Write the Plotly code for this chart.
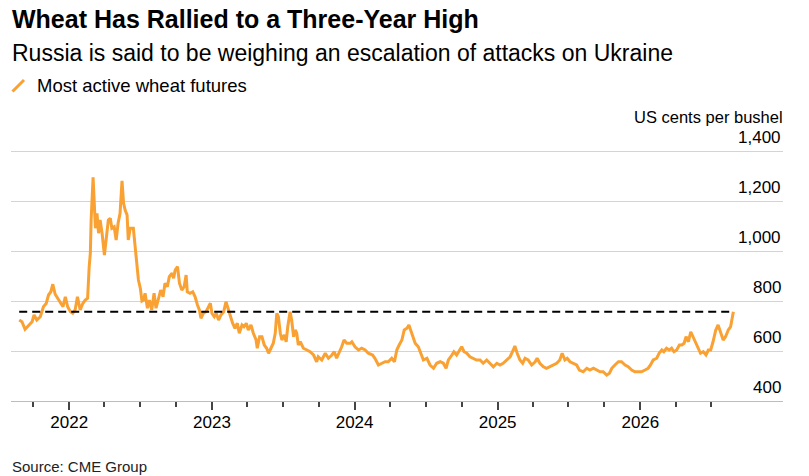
import pandas as pd
import plotly.graph_objects as go

W, H = 809, 476
ORANGE = "#f9a132"
FONT = "Liberation Sans"

# Most active wheat futures, US cents per bushel
dates_2021 = ["2021-08-26", "2021-09-02", "2021-09-10", "2021-09-19", "2021-09-28", "2021-10-03",
              "2021-10-10", "2021-10-19", "2021-10-27", "2021-11-03", "2021-11-09", "2021-11-15",
              "2021-11-20", "2021-11-26", "2021-12-02", "2021-12-09", "2021-12-16", "2021-12-22",
              "2021-12-28"]
cents_2021 = [724, 717, 687, 704, 717, 744, 724, 737, 777, 790, 824, 837,
              867, 827, 811, 797, 777, 817, 777]

dates_2022 = ["2022-01-04", "2022-01-10", "2022-01-16", "2022-01-22", "2022-01-29", "2022-02-05",
              "2022-02-11", "2022-02-17", "2022-02-21", "2022-02-24", "2022-02-26", "2022-03-03",
              "2022-03-06", "2022-03-09", "2022-03-13", "2022-03-17", "2022-03-21", "2022-03-26",
              "2022-04-01", "2022-04-06", "2022-04-11", "2022-04-16", "2022-04-20", "2022-04-26",
              "2022-05-01", "2022-05-06", "2022-05-11", "2022-05-16", "2022-05-20", "2022-05-24",
              "2022-05-29", "2022-06-01", "2022-06-06", "2022-06-14", "2022-06-19", "2022-06-23",
              "2022-06-27", "2022-07-02", "2022-07-06", "2022-07-10", "2022-07-14", "2022-07-20",
              "2022-07-25", "2022-07-31", "2022-08-06", "2022-08-11", "2022-08-17", "2022-08-23",
              "2022-08-29", "2022-09-03", "2022-09-09", "2022-09-14", "2022-09-21", "2022-09-25",
              "2022-09-29", "2022-10-05", "2022-10-10", "2022-10-16", "2022-10-22", "2022-10-27",
              "2022-10-30", "2022-11-06", "2022-11-13", "2022-11-19", "2022-11-25", "2022-11-30",
              "2022-12-04", "2022-12-10", "2022-12-17", "2022-12-23", "2022-12-28"]
cents_2022 = [757, 751, 764, 817, 764, 791, 804, 811, 937, 992, 1124, 1295,
              1191, 1091, 1151, 1071, 1124, 1071, 984, 1044, 1124, 1131, 1091, 1097,
              1044, 1111, 1151, 1281, 1191, 1164, 1144, 1044, 1091, 1091, 1004, 924,
              884, 850, 800, 804, 831, 771, 804, 764, 831, 771, 804, 844,
              817, 871, 857, 897, 911, 891, 924, 937, 871, 844, 857, 904,
              837, 831, 837, 817, 784, 764, 731, 751, 757, 777, 791]

dates_2023 = ["2023-01-01", "2023-01-07", "2023-01-12", "2023-01-18", "2023-01-24", "2023-01-31",
              "2023-02-06", "2023-02-10", "2023-02-17", "2023-02-23", "2023-03-01", "2023-03-07",
              "2023-03-12", "2023-03-19", "2023-03-24", "2023-03-30", "2023-04-04", "2023-04-11",
              "2023-04-17", "2023-04-24", "2023-04-27", "2023-05-03", "2023-05-09", "2023-05-15",
              "2023-05-21", "2023-05-26", "2023-06-01", "2023-06-07", "2023-06-12", "2023-06-16",
              "2023-06-20", "2023-06-25", "2023-06-29", "2023-07-05", "2023-07-10", "2023-07-14",
              "2023-07-20", "2023-07-24", "2023-07-29", "2023-08-02", "2023-08-06", "2023-08-10",
              "2023-08-15", "2023-08-23", "2023-09-01", "2023-09-09", "2023-09-18", "2023-09-26",
              "2023-09-30", "2023-10-09", "2023-10-18", "2023-10-26", "2023-11-04", "2023-11-10",
              "2023-11-16", "2023-11-22", "2023-11-29", "2023-12-05", "2023-12-12", "2023-12-21",
              "2023-12-25"]
cents_2023 = [751, 737, 751, 724, 744, 757, 797, 777, 744, 711, 691, 711,
              671, 704, 697, 711, 684, 704, 671, 644, 611, 657, 657, 624,
              611, 591, 611, 631, 671, 751, 737, 671, 644, 664, 637, 697,
              757, 724, 657, 684, 671, 624, 637, 611, 604, 597, 584, 557,
              577, 564, 591, 571, 584, 597, 571, 591, 617, 644, 631, 631,
              637]

dates_2024 = ["2024-01-02", "2024-01-11", "2024-01-19", "2024-01-28", "2024-02-05", "2024-02-16",
              "2024-02-22", "2024-03-02", "2024-03-11", "2024-03-19", "2024-03-27", "2024-04-05",
              "2024-04-12", "2024-04-18", "2024-04-24", "2024-05-01", "2024-05-07", "2024-05-14",
              "2024-05-19", "2024-05-26", "2024-06-04", "2024-06-12", "2024-06-19", "2024-06-25",
              "2024-07-04", "2024-07-12", "2024-07-21", "2024-07-29", "2024-08-07", "2024-08-15",
              "2024-08-22", "2024-08-28", "2024-09-06", "2024-09-11", "2024-09-18", "2024-09-25",
              "2024-10-01", "2024-10-07", "2024-10-14", "2024-10-22", "2024-10-31", "2024-11-08",
              "2024-11-17", "2024-11-25", "2024-12-04", "2024-12-12", "2024-12-21", "2024-12-30"]
cents_2024 = [617, 604, 611, 604, 591, 584, 571, 544, 551, 557, 557, 571,
              557, 604, 624, 644, 684, 691, 704, 671, 631, 617, 584, 564,
              571, 544, 531, 551, 557, 551, 531, 564, 584, 597, 584, 604,
              617, 597, 591, 577, 571, 564, 564, 551, 564, 551, 537, 551]

dates_2025 = ["2025-01-07", "2025-01-15", "2025-01-24", "2025-02-02", "2025-02-10", "2025-02-14",
              "2025-02-20", "2025-02-27", "2025-03-06", "2025-03-12", "2025-03-20", "2025-03-29",
              "2025-04-07", "2025-04-12", "2025-04-19", "2025-04-28", "2025-05-06", "2025-05-15",
              "2025-05-23", "2025-06-01", "2025-06-09", "2025-06-15", "2025-06-22", "2025-06-28",
              "2025-07-05", "2025-07-14", "2025-07-22", "2025-07-29", "2025-08-08", "2025-08-17",
              "2025-08-25", "2025-09-03", "2025-09-11", "2025-09-20", "2025-09-28", "2025-10-07",
              "2025-10-14", "2025-10-20", "2025-10-28", "2025-11-06", "2025-11-14", "2025-11-23",
              "2025-12-01", "2025-12-10", "2025-12-18", "2025-12-27"]
cents_2025 = [544, 551, 564, 577, 604, 620, 591, 564, 551, 571, 564, 544,
              557, 571, 551, 537, 531, 537, 544, 551, 564, 591, 564, 571,
              557, 551, 544, 524, 517, 531, 524, 531, 524, 517, 517, 504,
              511, 531, 544, 557, 557, 544, 537, 524, 517, 517]

dates_2026 = ["2026-01-04", "2026-01-13", "2026-01-21", "2026-01-27", "2026-02-03", "2026-02-12",
              "2026-02-18", "2026-02-25", "2026-03-02", "2026-03-09", "2026-03-16", "2026-03-22",
              "2026-03-28", "2026-04-04", "2026-04-11", "2026-04-17", "2026-04-23", "2026-04-28",
              "2026-05-04", "2026-05-10", "2026-05-16", "2026-05-23", "2026-05-29", "2026-06-04",
              "2026-06-11", "2026-06-18", "2026-06-24", "2026-06-30", "2026-07-06", "2026-07-13",
              "2026-07-19", "2026-07-25", "2026-08-01", "2026-08-07", "2026-08-14", "2026-08-20",
              "2026-08-24", "2026-08-27"]
cents_2026 = [517, 524, 531, 544, 564, 571, 591, 604, 597, 611, 604, 611,
              597, 604, 624, 624, 631, 657, 637, 677, 657, 631, 611, 591,
              597, 584, 604, 604, 637, 684, 704, 677, 644, 657, 684, 697,
              724, 757]

dates = dates_2021 + dates_2022 + dates_2023 + dates_2024 + dates_2025 + dates_2026
cents = cents_2021 + cents_2022 + cents_2023 + cents_2024 + cents_2025 + cents_2026

level = 757  # dashed reference: latest close

y_ticks = [400, 600, 800, 1000, 1200, 1400]
year_ticks = ["2022-01-01", "2023-01-01", "2024-01-01", "2025-01-01", "2026-01-01"]
year_labels = ["2022", "2023", "2024", "2025", "2026"]
quarter_ticks = pd.date_range("2021-10-01", "2026-07-01", freq="QS").strftime("%Y-%m-%d").tolist()

# plot area in pixels; y range runs past 1,400 so plotly keeps that gridline
# (0.25 px per cent, so 1,420 sits 5 px above the 1,400 line at y=151)
L, R, T, B = 11, 783, 146, 401
Y_RANGE = [400, 1420]


def px_x(x):
    return (x - L) / (R - L)


def px_y(y):
    return (B - y) / (B - T)


fig = go.Figure()

fig.add_trace(go.Scatter(x=dates, y=cents, mode="lines",
                         line=dict(color=ORANGE, width=3),
                         name="Most active wheat futures", hoverinfo="x+y"))

fig.add_trace(go.Scatter(x=[dates[0], dates[-1]], y=[level, level], mode="lines",
                         line=dict(color="#000000", width=2, dash="8px,5px"),
                         hoverinfo="skip"))

fig.update_layout(
    width=W, height=H,
    margin=dict(l=L, r=W - R, t=T, b=H - B, pad=0),
    paper_bgcolor="white", plot_bgcolor="white",
    showlegend=False,
    font=dict(family=FONT, color="#000000"),
    xaxis=dict(type="date", range=["2021-08-05", "2027-01-01"],
               tickmode="array", tickvals=year_ticks, ticktext=year_labels,
               ticks="outside", ticklen=8, tickwidth=1.5, tickcolor="#444444",
               ticklabelstandoff=-2,
               showgrid=False, zeroline=False,
               showline=True, linecolor="#bdbdbd", linewidth=1,
               tickfont=dict(size=17, color="#000000"),
               minor=dict(tickmode="array", tickvals=quarter_ticks, ticks="outside",
                          ticklen=5, tickwidth=1.5, tickcolor="#444444", showgrid=False)),
    yaxis=dict(side="right", range=Y_RANGE,
               tickmode="array", tickvals=y_ticks, showticklabels=False, ticks="",
               showgrid=True, gridcolor="#d4d4d4", gridwidth=1,
               zeroline=False, showline=False),
)

# y tick labels sit just above their gridlines, right-aligned to the plot edge
for v in y_ticks:
    fig.add_annotation(text=f"{v:,}", x=1, y=v, xref="paper", yref="y",
                       xanchor="right", yanchor="bottom", yshift=2, showarrow=False,
                       font=dict(family=FONT, size=17, color="#000000"))

texts = [
    # text, x px, center y px, size, anchor, colour
    ("<b>Wheat Has Rallied to a Three-Year High</b>", 10, 18.5, 25, "left", "#000000"),
    ("Russia is said to be weighing an escalation of attacks on Ukraine", 10, 53, 23, "left", "#000000"),
    ("Most active wheat futures", 35, 85, 18.5, "left", "#000000"),
    ("US cents per bushel", 785, 117, 16.5, "right", "#000000"),
    ("Source: CME Group", 10, 466, 15, "left", "#222222"),
]
for txt, x, y, size, anchor, colour in texts:
    fig.add_annotation(text=txt, x=px_x(x), y=px_y(y), xref="paper", yref="paper",
                       xanchor=anchor, yanchor="middle", showarrow=False,
                       font=dict(family=FONT, size=size, color=colour))

# legend swatch: short diagonal stroke
fig.add_shape(type="line", xref="paper", yref="paper",
              x0=px_x(12.5), y0=px_y(91.5), x1=px_x(24), y1=px_y(80),
              line=dict(color=ORANGE, width=3))

# drop the browser's default page margin so the figure sits at the window corner
fig.write_html("out.html", config={"displayModeBar": False},
               post_script="document.body.style.margin = '0';")
